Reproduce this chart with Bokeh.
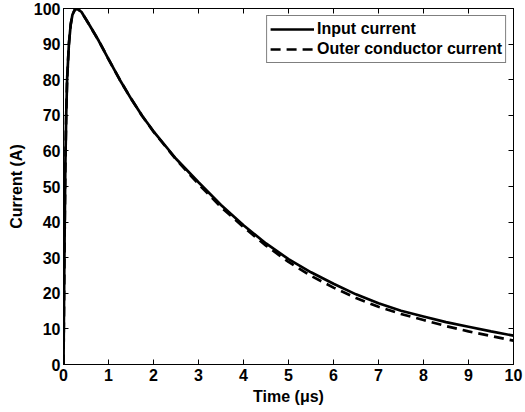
from bokeh.plotting import figure
from bokeh.models import Range1d, LinearAxis, FixedTicker, Legend, LegendItem
from bokeh.embed import file_html
from bokeh.resources import INLINE

time_us = [0, 0.01, 0.02, 0.04, 0.06, 0.08, 0.12, 0.16, 0.2, 0.25, 0.3, 0.4, 0.56, 0.78,
           1.0, 1.25, 1.5, 1.75, 2.0, 2.5, 3.0, 3.5, 4.0, 4.5, 5.0, 5.5, 6.0, 6.5,
           7.0, 7.5, 8.0, 8.5, 9.0, 9.5, 10.0]
input_current = [0, 15, 30, 55, 70, 80, 90, 95.5, 98.3, 99.6, 100, 99.0, 95.7, 91,
                 85.8, 80, 74.7, 69.8, 65.5, 57.8, 51.2, 44.8, 39.1, 34.0, 29.6, 25.9, 22.7, 19.7,
                 17.2, 15.1, 13.5, 11.9, 10.6, 9.3, 8.1]
outer_current = [0, 15, 30, 55, 70, 80, 90, 95.5, 98.3, 99.6, 100, 99.0, 95.7, 91,
                 85.8, 80, 74.7, 69.8, 65.4, 57.6, 50.7, 44.2, 38.6, 33.4, 28.8, 24.9, 21.6, 18.7,
                 16.2, 14.2, 12.5, 10.8, 9.3, 8.0, 6.7]
x_ticks = list(range(0, 11))
y_ticks = list(range(0, 101, 10))

FONT = "Liberation Sans"
FS = "16px"

p = figure(width=525, height=412, output_backend="svg", toolbar_location=None,
           x_range=Range1d(0, 10), y_range=Range1d(0, 100),
           min_border_left=63, min_border_right=12, min_border_top=8, min_border_bottom=48,
           x_axis_label="Time (μs)", y_axis_label="Current (A)")
p.xgrid.visible = False
p.ygrid.visible = False
p.outline_line_color = "black"
p.outline_line_width = 1
p.background_fill_color = "white"
p.border_fill_color = "white"

def style_axis(ax, ticks, labels=True):
    ax.ticker = FixedTicker(ticks=ticks)
    ax.minor_tick_line_color = None
    ax.major_tick_in = 5
    ax.major_tick_out = 0
    ax.axis_line_color = "black"
    ax.axis_line_width = 1
    ax.major_tick_line_color = "black"
    ax.major_tick_line_width = 1
    if labels:
        ax.major_label_text_font = FONT
        ax.major_label_text_font_style = "bold"
        ax.major_label_text_font_size = FS
        ax.major_label_text_color = "black"
        ax.axis_label_text_font = FONT
        ax.axis_label_text_font_style = "bold"
        ax.axis_label_text_font_size = FS
        ax.axis_label_text_color = "black"
    else:
        ax.major_label_overrides = {t: "" for t in ticks}
        ax.major_label_text_font_size = "1px"
        ax.major_label_standoff = 0

style_axis(p.xaxis[0], x_ticks)
style_axis(p.yaxis[0], y_ticks)
p.xaxis[0].major_label_standoff = 4
p.xaxis[0].axis_label_standoff = 4
p.yaxis[0].major_label_standoff = 3
p.yaxis[0].axis_label_standoff = 6

ax_r = LinearAxis()
style_axis(ax_r, y_ticks, labels=False)
p.add_layout(ax_r, "right")
ax_t = LinearAxis()
style_axis(ax_t, x_ticks, labels=False)
p.add_layout(ax_t, "above")

r1 = p.line(time_us, input_current, line_color="black", line_width=2.7)
r2 = p.line(time_us, outer_current, line_color="black", line_width=2.7, line_dash="10 6")

legend = Legend(items=[LegendItem(label="Input current", renderers=[r1]),
                       LegendItem(label="Outer conductor current", renderers=[r2])],
                location="top_right", margin=7, padding=3, spacing=0,
                glyph_width=44, glyph_height=20, label_height=20, label_standoff=3,
                label_text_font=FONT, label_text_font_style="bold", label_text_font_size=FS,
                label_text_color="black", border_line_color="black", border_line_width=1,
                background_fill_color="white", background_fill_alpha=1)
p.add_layout(legend, "center")

open("out.html", "w").write(file_html(p, INLINE))
